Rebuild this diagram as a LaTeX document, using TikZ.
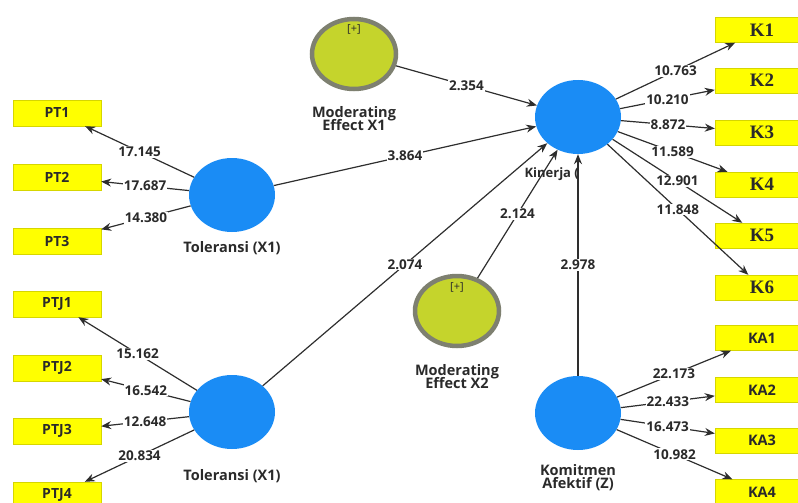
\documentclass[tikz,border=0pt]{standalone}
\usepackage{fontspec}
\setmainfont{Open Sans}
\newfontfamily\kfont{Liberation Serif}
\usepackage{tikz}
\usetikzlibrary{arrows.meta,shapes.geometric}
\definecolor{boxyellow}{HTML}{FFFF00}
\definecolor{boxline}{HTML}{D6D600}
\definecolor{latblue}{HTML}{1A8CF5}
\definecolor{modgreen}{HTML}{C5D42C}
\definecolor{ringgray}{HTML}{7E8070}
\definecolor{linegray}{HTML}{2E2E2E}
\definecolor{textgray}{HTML}{2A2A2A}

\begin{document}
\begin{tikzpicture}[x=1pt,y=-1pt]
\tikzstyle{ind}=[rectangle,draw=boxline,fill=boxyellow,minimum width=88pt,minimum height=26pt,inner sep=0pt,text=textgray,font=\fontsize{14}{16}\selectfont\bfseries]
\tikzstyle{kind}=[ind,minimum width=94pt,minimum height=25pt,font=\kfont\fontsize{19}{21}\selectfont\bfseries]
\tikzstyle{kaind}=[ind,minimum width=94pt,minimum height=25pt,font=\fontsize{14.5}{16}\selectfont\bfseries]
\tikzstyle{lat}=[ellipse,fill=latblue,minimum width=86pt,minimum height=74pt,inner sep=0pt]
\tikzstyle{mod}=[ellipse,draw=ringgray,line width=4.5pt,fill=modgreen,minimum width=84pt,minimum height=70pt,inner sep=0pt]
\tikzstyle{varlbl}=[align=center,text=textgray,font=\fontsize{14.5}{16}\selectfont\bfseries]
\tikzstyle{arr}=[draw=linegray,line width=1.2pt,-{Stealth[length=10pt,width=8pt]}]
\tikzstyle{coef}=[fill=white,inner sep=1pt,text=textgray,font=\fontsize{13.5}{15}\selectfont\bfseries]
\useasboundingbox (0,0) rectangle (798,503);

% indicators left
\node[ind] (pt1) at (57,113) {PT1};
\node[ind] (pt2) at (57,177) {PT2};
\node[ind] (pt3) at (57,241) {PT3};
\node[ind] (ptj1) at (57,304) {PTJ1};
\node[ind] (ptj2) at (57,368) {PTJ2};
\node[ind] (ptj3) at (57,431) {PTJ3};
\node[ind] (ptj4) at (57,495) {PTJ4};

% indicators right
\node[kind] (k1) at (762,30) {K1};
\node[kind] (k2) at (762,80.5) {K2};
\node[kind] (k3) at (762,132.5) {K3};
\node[kind] (k4) at (762,184.5) {K4};
\node[kind] (k5) at (762,235.5) {K5};
\node[kind] (k6) at (762,287.5) {K6};
\node[kaind] (ka1) at (762,338) {KA1};
\node[kaind] (ka2) at (762,390) {KA2};
\node[kaind] (ka3) at (762,440.5) {KA3};
\node[kaind] (ka4) at (762,492) {KA4};

% latent variables
\node[lat] (tola) at (232,195) {};
\node[lat] (tolb) at (232,412) {};
\node[lat] (kin) at (578,117) {};
\node[lat] (kom) at (578,413) {};
\node[mod] (mex1) at (354,54) {};
\node[mod] (mex2) at (457,311) {};
\node[font=\fontsize{11}{12}\selectfont,text=textgray] (plus1) at (354,29) {[+]};
\node[font=\fontsize{11}{12}\selectfont,text=textgray] (plus2) at (457,287) {[+]};

\node[varlbl] (mex1-name) at (354,119) {Moderating\\[-3pt]Effect X1};
\node[varlbl] (tola-name) at (232,248) {Toleransi (X1)};
\node[anchor=west,text=textgray,font=\fontsize{13}{15}\selectfont\bfseries] (kin-name) at (521,174) {Kinerja (};
\node[varlbl] (mex2-name) at (457,377) {Moderating\\[-3pt]Effect X2};
\node[varlbl] (tolb-name) at (232,476) {Toleransi (X1)};
\node[varlbl] (kom-name) at (578,478) {Komitmen\\[-3pt]Afektif (Z)};

% outer loadings
\draw[arr] (tola) -- (pt1) node[coef,midway] {17.145};
\draw[arr] (tola) -- (pt2) node[coef,midway] {17.687};
\draw[arr] (tola) -- (pt3) node[coef,midway] {14.380};
\draw[arr] (tolb) -- (ptj1) node[coef,midway] {15.162};
\draw[arr] (tolb) -- (ptj2) node[coef,midway] {16.542};
\draw[arr] (tolb) -- (ptj3) node[coef,midway] {12.648};
\draw[arr] (tolb) -- (ptj4) node[coef,midway] {20.834};
\draw[arr] (kin) -- (k1) node[coef,midway] {10.763};
\draw[arr] (kin) -- (k2) node[coef,midway] {10.210};
\draw[arr] (kin) -- (k3) node[coef,midway] {8.872};
\draw[arr] (kin) -- (k4) node[coef,midway] {11.589};
\draw[arr] (kin) -- (k5) node[coef,midway] {12.901};
\draw[arr] (kin) -- (k6) node[coef,midway] {11.848};
\draw[arr] (kom) -- (ka1) node[coef,midway] {22.173};
\draw[arr] (kom) -- (ka2) node[coef,midway] {22.433};
\draw[arr] (kom) -- (ka3) node[coef,midway] {16.473};
\draw[arr] (kom) -- (ka4) node[coef,midway] {10.982};

% inner paths
\draw[arr] (mex1) -- (kin) node[coef,midway] {2.354};
\draw[arr] (tola) -- (kin) node[coef,midway] {3.864};
\draw[arr] (tolb) -- (kin) node[coef,midway] {2.074};
\draw[arr] (mex2) -- (kin) node[coef,midway] {2.124};
\draw[arr] (kom) -- (kin) node[coef,midway] {2.978};
\end{tikzpicture}
\end{document}
